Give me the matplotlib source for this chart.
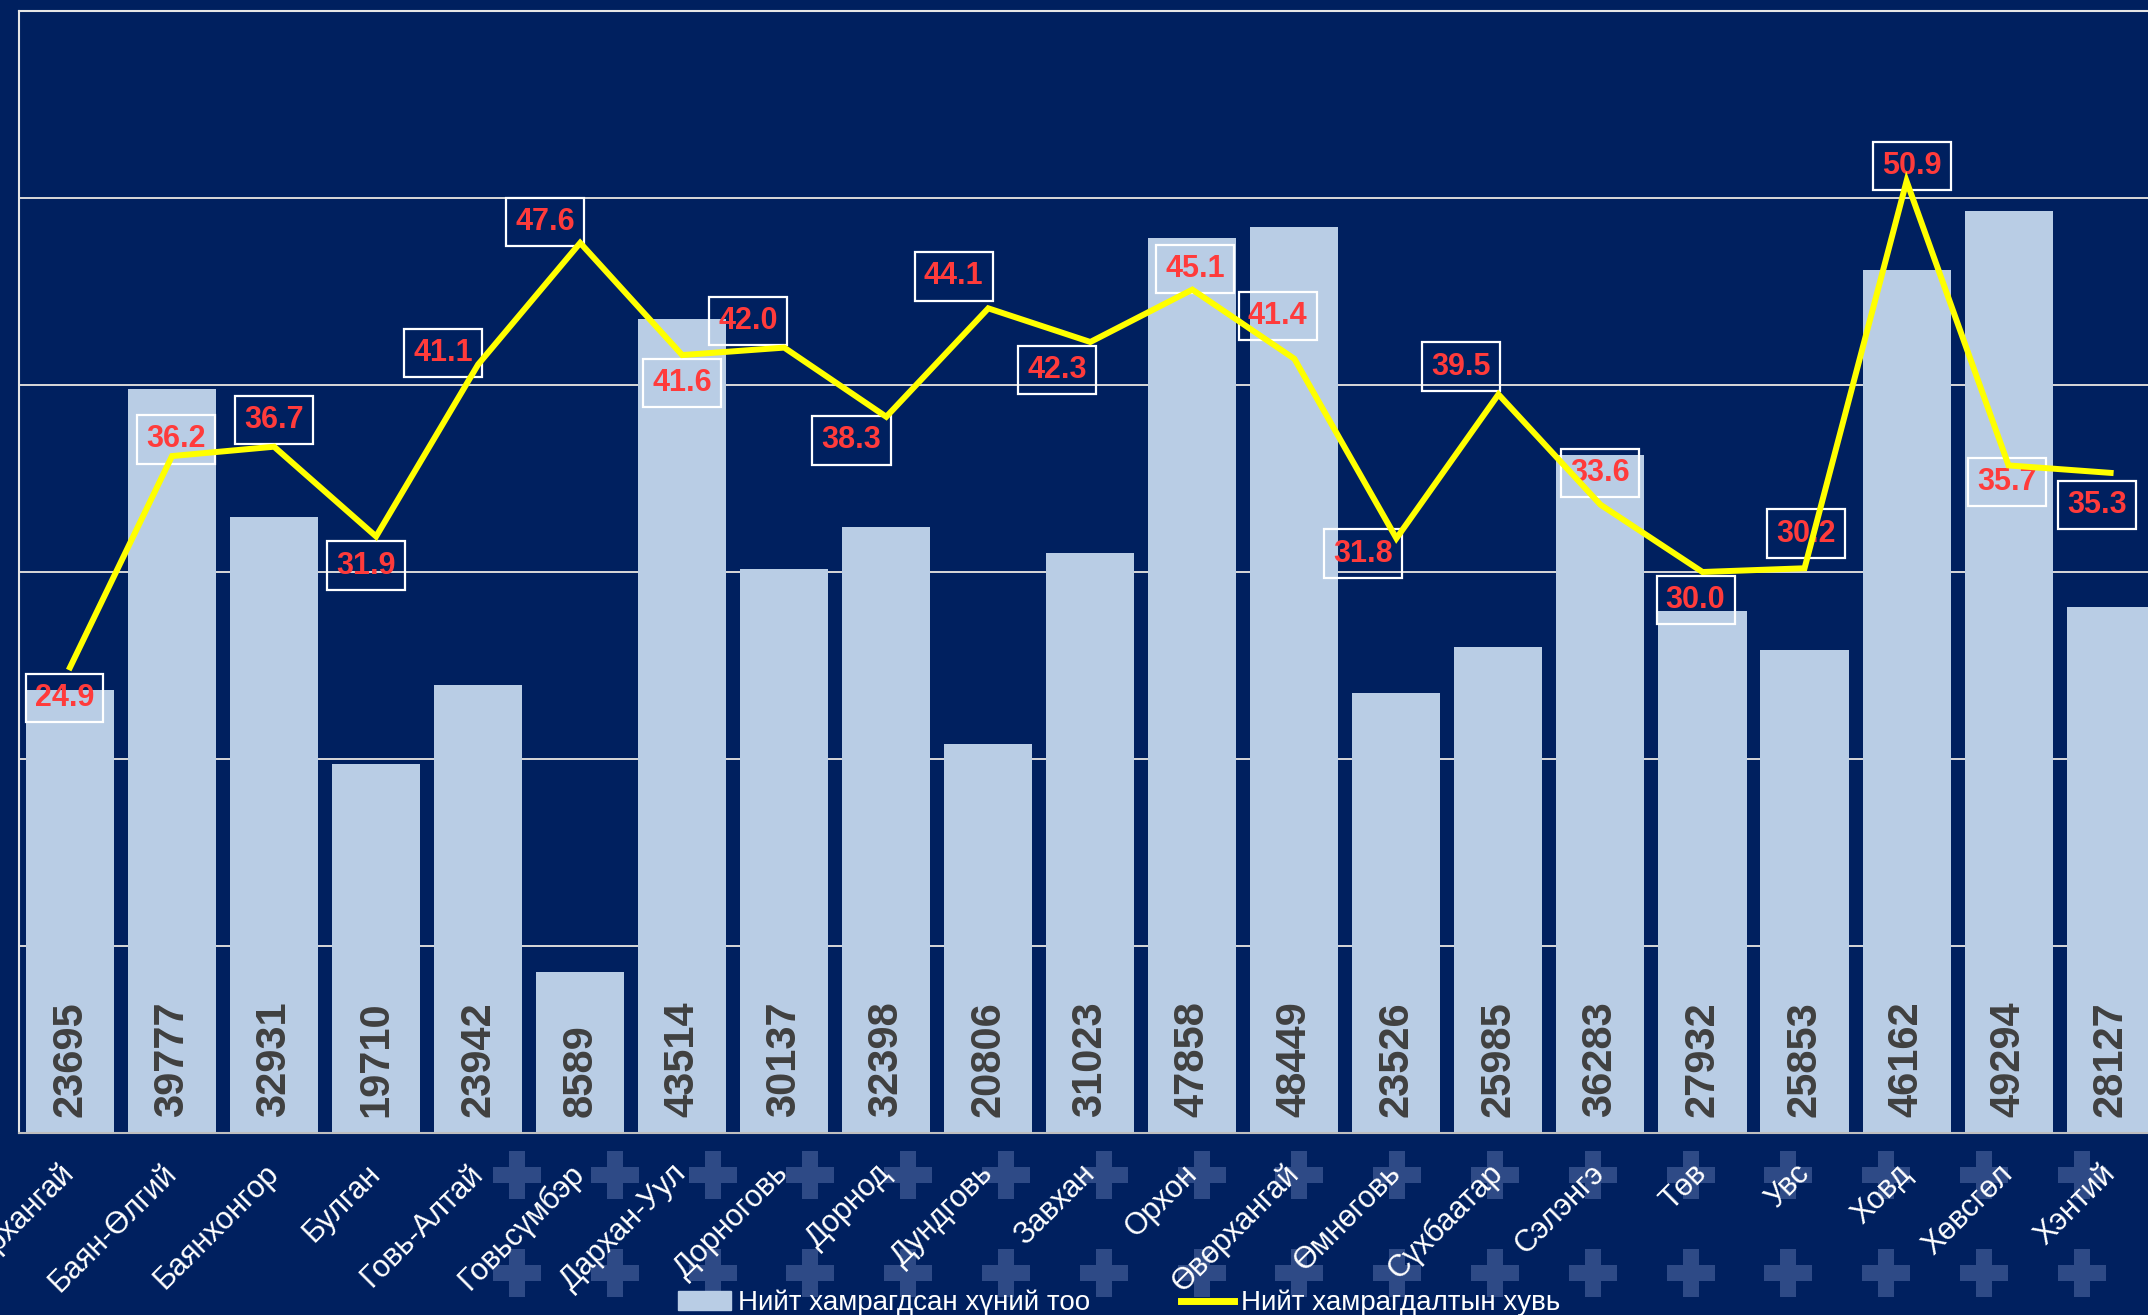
import matplotlib.pyplot as plt
from matplotlib.patches import Patch
from matplotlib.lines import Line2D
import numpy as np

plt.rcParams['font.family'] = ['Liberation Sans', 'DejaVu Sans']

aimags = ["Архангай", "Баян-Өлгий", "Баянхонгор", "Булган", "Говь-Алтай",
          "Говьсүмбэр", "Дархан-Уул", "Дорноговь", "Дорнод", "Дундговь",
          "Завхан", "Орхон", "Өвөрхангай", "Өмнөговь", "Сүхбаатар",
          "Сэлэнгэ", "Төв", "Увс", "Ховд", "Хөвсгөл", "Хэнтий"]
people = [23695, 39777, 32931, 19710, 23942, 8589, 43514, 30137, 32398, 20806,
          31023, 47858, 48449, 23526, 25985, 36283, 27932, 25853, 46162, 49294, 28127]
coverage = [24.9, 36.2, 36.7, 31.9, 41.1, 47.6, 41.6, 42.0, 38.3, 44.1,
            42.3, 45.1, 41.4, 31.8, 39.5, 33.6, 30.0, 30.2, 50.9, 35.7, 35.3]

# where each percentage box sits relative to its point (points)
lbl_off = [(-4, -22), (3, 12), (0, 19), (-7, -21), (-25, 8), (-25, 15), (0, -20),
           (-26, 19), (-25, -17), (-25, 23), (-24, -20), (2, 15), (-12, 31),
           (-24, -11), (-27, 20), (0, 23), (-5, -20), (1, 25), (4, 11), (-1, -12),
           (-10, -23)]

NAVY = '#00205F'
BAR = '#B9CDE5'
RED = '#FF3B3B'

W, H = 2148, 1315
fig = plt.figure(figsize=(W / 100, H / 100), dpi=100)
fig.patch.set_facecolor(NAVY)

# background cross pattern below the chart
bg = fig.add_axes([0, 0, 1, 1], zorder=-1)
bg.set_xlim(0, W)
bg.set_ylim(H, 0)
bg.axis('off')
cx, cy = np.meshgrid(517 + 97.8 * np.arange(17), [1175, 1273])
bg.scatter(cx.ravel(), cy.ravel(), marker='P', s=1190, color='#2E4A86', linewidths=0)

left, top, bottom = 19, 11, 1133
ax = fig.add_axes([left / W, 1 - bottom / H, 21 * 102.03 / W, (bottom - top) / H])
ax.set_facecolor(NAVY)
x = np.arange(len(aimags))
ax.bar(x, people, width=0.863, color=BAR, zorder=2)
ax.set_xlim(-0.5, 20.5)
ax.set_ylim(0, 60000)
ax.set_yticks(np.arange(0, 60001, 10000))
ax.yaxis.grid(True, color='#D9D9D9', lw=1.4, zorder=1)
ax.set_yticklabels([])
ax.tick_params(axis='y', length=0)
ax.set_xticks(x)
ax.set_xticklabels(aimags, rotation=45, ha='right', va='center',
                   rotation_mode='anchor', color='white', fontsize=22)
ax.tick_params(axis='x', length=0, pad=26)
for s in ['left', 'top']:
    ax.spines[s].set_color('#E6E6E6')
    ax.spines[s].set_linewidth(1.5)
ax.spines['bottom'].set_color('#BFBFBF')
ax.spines['bottom'].set_linewidth(1.5)
ax.spines['right'].set_visible(False)

for i, v in enumerate(people):
    ax.annotate(str(v), (i, 0), xytext=(0, 11.5), textcoords='offset points',
                rotation=90, ha='center', va='bottom', fontsize=30,
                fontweight='bold', color='#404040', zorder=3)

ax2 = ax.twinx()
ax2.set_ylim(0, 60)
ax2.axis('off')
ax2.plot(x, coverage, color='#FFFF00', lw=4.3, zorder=3, solid_joinstyle='miter')
for i, v in enumerate(coverage):
    ax2.annotate(f"{v:.1f}", (i, v), xytext=lbl_off[i], textcoords='offset points',
                 ha='center', va='center', fontsize=22, fontweight='bold', color=RED,
                 zorder=2,
                 bbox=dict(boxstyle='square,pad=0.3', fc='none', ec='white', lw=1.6))

handles = [Patch(color=BAR), Line2D([0], [0], color='#FFFF00', lw=5)]
fig.legend(handles, ["Нийт хамрагдсан хүний тоо", "Нийт хамрагдалтын хувь"],
           loc='center', bbox_to_anchor=(0.521, 0.009), ncol=2, frameon=False,
           fontsize=20, labelcolor='white', handlelength=1.9, handletextpad=0.25,
           columnspacing=3.3)

fig.savefig('out.png', dpi=100, facecolor=NAVY)
